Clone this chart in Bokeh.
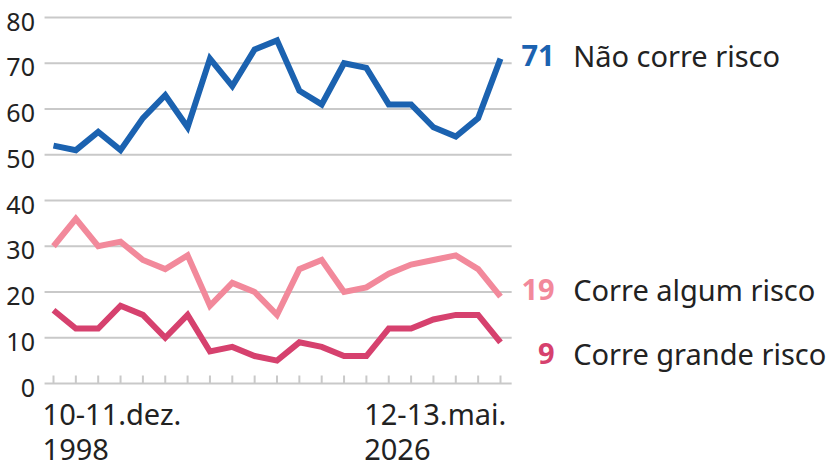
from bokeh.plotting import figure
from bokeh.core.properties import value
from bokeh.embed import file_html
from bokeh.resources import INLINE

# ---- data ----
nao_corre = [52, 51, 55, 51, 58, 63, 56, 71, 65, 73, 75, 64, 61, 70, 69, 61, 61, 56, 54, 58, 71]
algum_risco = [30, 36, 30, 31, 27, 25, 28, 17, 22, 20, 15, 25, 27, 20, 21, 24, 26, 27, 28, 25, 19]
grande_risco = [16, 12, 12, 17, 15, 10, 15, 7, 8, 6, 5, 9, 8, 6, 6, 12, 12, 14, 15, 15, 9]
series_names = ["Não corre risco", "Corre algum risco", "Corre grande risco"]
series_colors = ["#1b62b0", "#f2899b", "#d6416e"]
y_ticks = [0, 10, 20, 30, 40, 50, 60, 70, 80]
x_label_first = ["10-11.dez.", "1998"]
x_label_last = ["12-13.mai.", "2026"]

n = len(nao_corre)
xs = list(range(n))

FONT = "Noto Sans"
TXT = "#222222"

# pixel mapping: index 0 at x=53, 22.35 px per step; value 0 at y=383, 4.575 px per unit
p = figure(width=831, height=469, output_backend="svg", toolbar_location=None,
           x_range=(-53 / 22.35, (831 - 53) / 22.35),
           y_range=(-(469 - 383) / 4.575, 80 + 17 / 4.575),
           min_border=0, min_border_left=0, min_border_right=0,
           min_border_top=0, min_border_bottom=0)
p.axis.visible = False
p.grid.visible = False
p.outline_line_color = None
p.background_fill_color = "white"
p.border_fill_color = "white"

# gridlines
gx0, gx1 = -0.4, 20.5
p.segment(x0=[gx0] * len(y_ticks), x1=[gx1] * len(y_ticks), y0=y_ticks, y1=y_ticks,
          line_color="#c9c9c9", line_width=2)
# x ticks
p.segment(x0=xs, x1=xs, y0=[0] * n, y1=[1.75] * n, line_color="#c9c9c9", line_width=2)

# y tick labels
p.text(x=[-0.83] * len(y_ticks), y=y_ticks, text=[str(t) for t in y_ticks], y_offset=4,
       text_font=value(FONT), text_font_size="25px", text_color=TXT,
       text_align="right", text_baseline="middle")

# x labels (two lines each)
p.text(x=[-0.49, -0.49], y=[0, 0], text=x_label_first, y_offset=[30, 66],
       text_font=value(FONT), text_font_size="29px", text_color=TXT,
       text_align="left", text_baseline="middle")
p.text(x=[13.9, 13.9], y=[0, 0], text=x_label_last, y_offset=[30, 66],
       text_font=value(FONT), text_font_size="29px", text_color=TXT,
       text_align="left", text_baseline="middle")

# lines
all_series = [nao_corre, algum_risco, grande_risco]
for vals, col in zip(reversed(all_series), reversed(series_colors)):
    p.line(xs, vals, line_color=col, line_width=6, line_join="miter")

# end labels
offsets = [-3, -7.5, 11]
for vals, col, name, off in zip(all_series, series_colors, series_names, offsets):
    p.text(x=[22.42], y=[vals[-1]], text=[str(vals[-1])], y_offset=off,
           text_font=value(FONT), text_font_size="29px", text_font_style="bold",
           text_color=col, text_align="right", text_baseline="middle")
    p.text(x=[23.25], y=[vals[-1]], text=[name], y_offset=off,
           text_font=value(FONT), text_font_size="29px", text_color=TXT,
           text_align="left", text_baseline="middle")

open("out.html", "w").write(file_html(p, INLINE))
